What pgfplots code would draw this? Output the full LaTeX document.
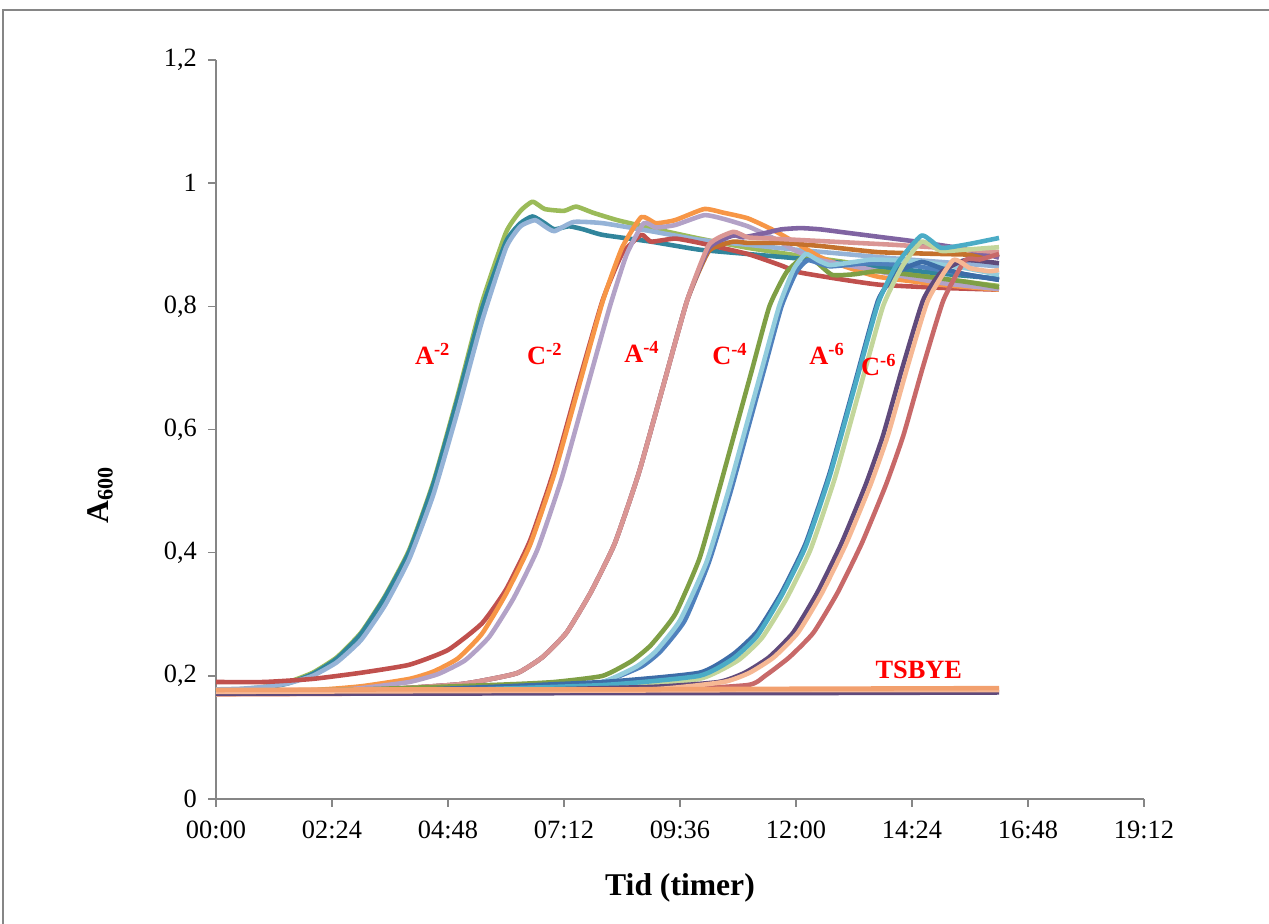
\documentclass[border=0pt]{standalone}
\usepackage{fontspec}
\setmainfont{Liberation Serif}
\usepackage{pgfplots}
\pgfplotsset{compat=1.18}

\definecolor{agreen}{HTML}{9BBB59}
\definecolor{ateal}{HTML}{31859C}
\definecolor{alblue}{HTML}{95B3D7}
\definecolor{cred}{HTML}{C0504D}
\definecolor{corange}{HTML}{F79646}
\definecolor{clav}{HTML}{B3A2C7}
\definecolor{abrown}{RGB}{196,113,44}
\definecolor{apurple}{HTML}{8064A2}
\definecolor{apink}{HTML}{DA9694}
\definecolor{c4green}{HTML}{7F9F45}
\definecolor{c4blue}{HTML}{4F81BD}
\definecolor{c4lblue}{HTML}{93CDDD}
\definecolor{a6blue}{HTML}{3D6DA8}
\definecolor{a6cyan}{HTML}{4BACC6}
\definecolor{a6lgreen}{HTML}{C3D69B}
\definecolor{c6purple}{HTML}{604A7B}
\definecolor{c6rose}{RGB}{200,105,105}
\definecolor{c6salmon}{RGB}{246,184,148}
\definecolor{torange}{RGB}{242,160,110}
\definecolor{axgray}{RGB}{134,134,134}

\begin{document}
\begin{tikzpicture}
\useasboundingbox (0,0) rectangle (25.38,18.48);
\draw[axgray, line width=0.8pt] (0.06,-2) rectangle (27,18.28);

\begin{axis}[
  at={(4.32cm,2.5cm)}, anchor=south west,
  scale only axis, width=18.56cm, height=14.78cm,
  xmin=0, xmax=19.2, ymin=0, ymax=1.2,
  axis x line=bottom, axis y line=left,
  axis line style={axgray, line width=0.9pt, -},
  tick style={axgray, line width=0.9pt},
  tick align=outside, major tick length=0.16cm,
  xtick={0,2.4,4.8,7.2,9.6,12,14.4,16.8,19.2},
  xticklabels={00:00,02:24,04:48,07:12,09:36,12:00,14:24,16:48,19:12},
  ytick={0,0.2,0.4,0.6,0.8,1,1.2},
  yticklabels={0,{0,2},{0,4},{0,6},{0,8},1,{1,2}},
  tick label style={font=\fontsize{15}{18}\selectfont},
  xticklabel style={yshift=-0.15cm},
  yticklabel style={xshift=-0.1cm},
  every axis plot/.append style={line width=2.6pt, line join=round, mark=none, smooth, tension=0.3},
  clip=false,
]
% A-2
\addplot[agreen] coordinates {(0,0.176)(0.5,0.178)(1,0.182)(1.5,0.19)(2,0.205)(2.5,0.23)(3,0.27)(3.5,0.33)(4,0.405)(4.5,0.515)(5,0.655)(5.5,0.805)(6,0.92)(6.3,0.955)(6.55,0.97)(6.8,0.958)(7.2,0.955)(7.45,0.962)(7.8,0.952)(8.3,0.94)(9,0.927)(10,0.91)(11,0.895)(12,0.883)(13,0.872)(14,0.858)(15,0.845)(16.2,0.833)};
\addplot[ateal] coordinates {(0,0.172)(0.5,0.175)(1,0.18)(1.5,0.188)(2,0.203)(2.5,0.228)(3,0.268)(3.5,0.328)(4,0.402)(4.5,0.512)(5,0.65)(5.5,0.795)(6,0.905)(6.3,0.935)(6.55,0.946)(6.8,0.935)(7,0.925)(7.3,0.93)(7.6,0.925)(8,0.916)(9,0.905)(10,0.892)(11,0.885)(12,0.878)(13,0.87)(14,0.862)(15,0.853)(16.2,0.845)};
\addplot[alblue] coordinates {(0,0.178)(0.5,0.179)(1,0.182)(1.5,0.188)(2,0.2)(2.5,0.222)(3,0.258)(3.5,0.315)(4,0.39)(4.5,0.495)(5,0.63)(5.5,0.775)(6,0.895)(6.3,0.93)(6.6,0.94)(6.8,0.93)(7,0.922)(7.4,0.937)(8,0.935)(9,0.922)(10,0.908)(11,0.9)(12,0.892)(13,0.885)(14,0.878)(15,0.872)(16.2,0.865)};
% C-2
\addplot[cred] coordinates {(0,0.19)(1,0.19)(2,0.195)(3,0.205)(4,0.218)(4.8,0.242)(5.5,0.285)(6,0.34)(6.5,0.42)(7,0.535)(7.5,0.675)(8,0.81)(8.4,0.885)(8.8,0.916)(9,0.905)(9.5,0.91)(10,0.903)(11,0.885)(11.67,0.867)(12.08,0.855)(13,0.843)(13.74,0.835)(15,0.83)(16.2,0.827)};
\addplot[corange] coordinates {(0,0.175)(2,0.177)(3,0.183)(4,0.195)(4.5,0.207)(5,0.228)(5.5,0.268)(6,0.333)(6.5,0.413)(7,0.528)(7.5,0.668)(8,0.808)(8.4,0.895)(8.8,0.945)(9.1,0.935)(9.5,0.94)(10.1,0.958)(10.5,0.952)(11,0.943)(11.5,0.925)(12,0.903)(12.5,0.88)(13,0.865)(13.7,0.848)(15,0.835)(16.2,0.827)};
\addplot[clav] coordinates {(0,0.17)(2,0.174)(3,0.18)(4,0.19)(4.6,0.203)(5.15,0.225)(5.65,0.263)(6.15,0.325)(6.65,0.405)(7.15,0.52)(7.65,0.66)(8.15,0.8)(8.5,0.885)(8.85,0.935)(9.1,0.928)(9.5,0.932)(10.1,0.948)(10.5,0.942)(11,0.93)(11.5,0.912)(12,0.89)(12.5,0.875)(13.4,0.862)(14,0.852)(15,0.838)(16.2,0.828)};
% A-4
\addplot[abrown] coordinates {(0,0.172)(3,0.176)(5,0.186)(5.7,0.195)(6.25,0.205)(6.75,0.23)(7.25,0.27)(7.75,0.335)(8.25,0.415)(8.75,0.53)(9.25,0.67)(9.75,0.81)(10.2,0.89)(10.7,0.905)(11,0.903)(11.7,0.903)(12.5,0.898)(13.7,0.888)(15,0.885)(16.2,0.883)};
\addplot[apurple] coordinates {(0,0.172)(3,0.176)(5,0.186)(5.7,0.195)(6.25,0.205)(6.75,0.23)(7.25,0.27)(7.75,0.335)(8.25,0.415)(8.75,0.53)(9.25,0.67)(9.75,0.81)(10.2,0.895)(10.7,0.915)(10.9,0.912)(11.3,0.918)(11.7,0.925)(12.1,0.927)(12.5,0.925)(13,0.92)(13.7,0.913)(14.5,0.905)(15.5,0.893)(16.2,0.879)};
\addplot[apink] coordinates {(0,0.172)(3,0.176)(5,0.186)(5.7,0.195)(6.25,0.205)(6.75,0.23)(7.25,0.27)(7.75,0.335)(8.25,0.415)(8.75,0.53)(9.25,0.67)(9.75,0.81)(10.2,0.9)(10.7,0.921)(11,0.912)(11.5,0.91)(12,0.908)(13,0.904)(14,0.9)(15,0.895)(16.2,0.888)};
% C-4
\addplot[c4green] coordinates {(0,0.175)(3,0.178)(6,0.186)(7,0.19)(8,0.2)(8.6,0.224)(9,0.25)(9.5,0.3)(10,0.39)(10.4,0.5)(10.75,0.6)(11.1,0.7)(11.45,0.8)(11.8,0.855)(12.2,0.883)(12.45,0.87)(12.75,0.851)(13.2,0.852)(13.7,0.857)(14.5,0.85)(15.5,0.84)(16.2,0.831)};
\addplot[c4blue] coordinates {(0,0.172)(3,0.174)(6,0.178)(7,0.182)(8,0.19)(8.8,0.215)(9.2,0.24)(9.7,0.29)(10.2,0.385)(10.65,0.5)(11,0.6)(11.35,0.7)(11.7,0.8)(12,0.855)(12.25,0.875)(12.7,0.865)(13.5,0.87)(14.5,0.865)(15.5,0.852)(16.2,0.843)};
\addplot[c4lblue] coordinates {(0,0.172)(3,0.174)(6,0.178)(7,0.182)(8,0.19)(8.7,0.215)(9.1,0.24)(9.6,0.29)(10.15,0.385)(10.6,0.5)(10.95,0.6)(11.3,0.7)(11.65,0.8)(11.95,0.86)(12.2,0.885)(12.45,0.875)(12.7,0.867)(13.2,0.872)(13.6,0.876)(14.5,0.873)(15.5,0.862)(16.2,0.851)};
% A-6
\addplot[a6blue] coordinates {(0,0.172)(4,0.177)(8,0.19)(10,0.205)(10.7,0.235)(11.2,0.272)(11.7,0.335)(12.2,0.415)(12.7,0.53)(13.2,0.67)(13.7,0.81)(14.1,0.855)(14.6,0.872)(15,0.862)(15.5,0.852)(16.2,0.843)};
\addplot[a6lgreen] coordinates {(0,0.172)(4,0.174)(8,0.18)(10,0.195)(10.8,0.225)(11.3,0.262)(11.8,0.325)(12.3,0.405)(12.8,0.52)(13.3,0.66)(13.8,0.8)(14.2,0.865)(14.6,0.905)(15,0.89)(15.5,0.892)(16.2,0.896)};
\addplot[a6cyan] coordinates {(0,0.172)(4,0.175)(8,0.185)(10,0.2)(10.7,0.228)(11.2,0.265)(11.7,0.33)(12.2,0.41)(12.7,0.525)(13.2,0.665)(13.7,0.805)(14.1,0.87)(14.6,0.915)(15,0.895)(15.5,0.9)(16.2,0.911)};
% C-6
\addplot[c6purple] coordinates {(0,0.172)(5,0.175)(9,0.182)(10.4,0.19)(10.94,0.205)(11.44,0.23)(11.94,0.27)(12.44,0.335)(12.94,0.415)(13.44,0.51)(13.8,0.59)(14.2,0.7)(14.63,0.81)(15,0.855)(15.5,0.875)(16.2,0.87)};
\addplot[c6rose] coordinates {(0,0.17)(5,0.172)(9,0.176)(11,0.185)(11.36,0.2)(11.86,0.23)(12.36,0.27)(12.86,0.335)(13.36,0.415)(13.86,0.51)(14.22,0.59)(14.62,0.7)(15.05,0.81)(15.5,0.875)(15.8,0.876)(16.2,0.885)};
\addplot[c6salmon] coordinates {(0,0.17)(5,0.172)(9,0.178)(10.5,0.19)(11.04,0.205)(11.54,0.23)(12.04,0.27)(12.54,0.335)(13.04,0.415)(13.54,0.51)(13.9,0.59)(14.3,0.7)(14.73,0.81)(15.25,0.875)(15.6,0.862)(16,0.857)(16.2,0.859)};
% TSBYE
\addplot[c6purple] coordinates {(0,0.171)(4,0.171)(8,0.172)(12,0.172)(16.2,0.173)};
\addplot[c6salmon] coordinates {(0,0.174)(4,0.175)(8,0.176)(12,0.177)(16.2,0.177)};
\addplot[torange] coordinates {(0,0.177)(4,0.178)(8,0.178)(12,0.179)(16.2,0.18)};

\begin{scope}[every node/.style={text=red, font=\fontsize{15}{18}\selectfont\bfseries, inner sep=0pt, anchor=base west}]
\node at (axis cs:4.11,0.705) {A\textsuperscript{-2}};
\node at (axis cs:6.43,0.705) {C\textsuperscript{-2}};
\node at (axis cs:8.44,0.708) {A\textsuperscript{-4}};
\node at (axis cs:10.26,0.705) {C\textsuperscript{-4}};
\node at (axis cs:12.27,0.705) {A\textsuperscript{-6}};
\node at (axis cs:13.34,0.688) {C\textsuperscript{-6}};
\node at (axis cs:13.64,0.195) {TSBYE};
\end{scope}
\end{axis}

\node[rotate=90, font=\fontsize{18}{20}\selectfont\bfseries] at (2.0,8.58) {A\textsubscript{600}};
\node[font=\fontsize{18}{20}\selectfont\bfseries] at (13.6,0.72) {Tid (timer)};
\end{tikzpicture}
\end{document}
